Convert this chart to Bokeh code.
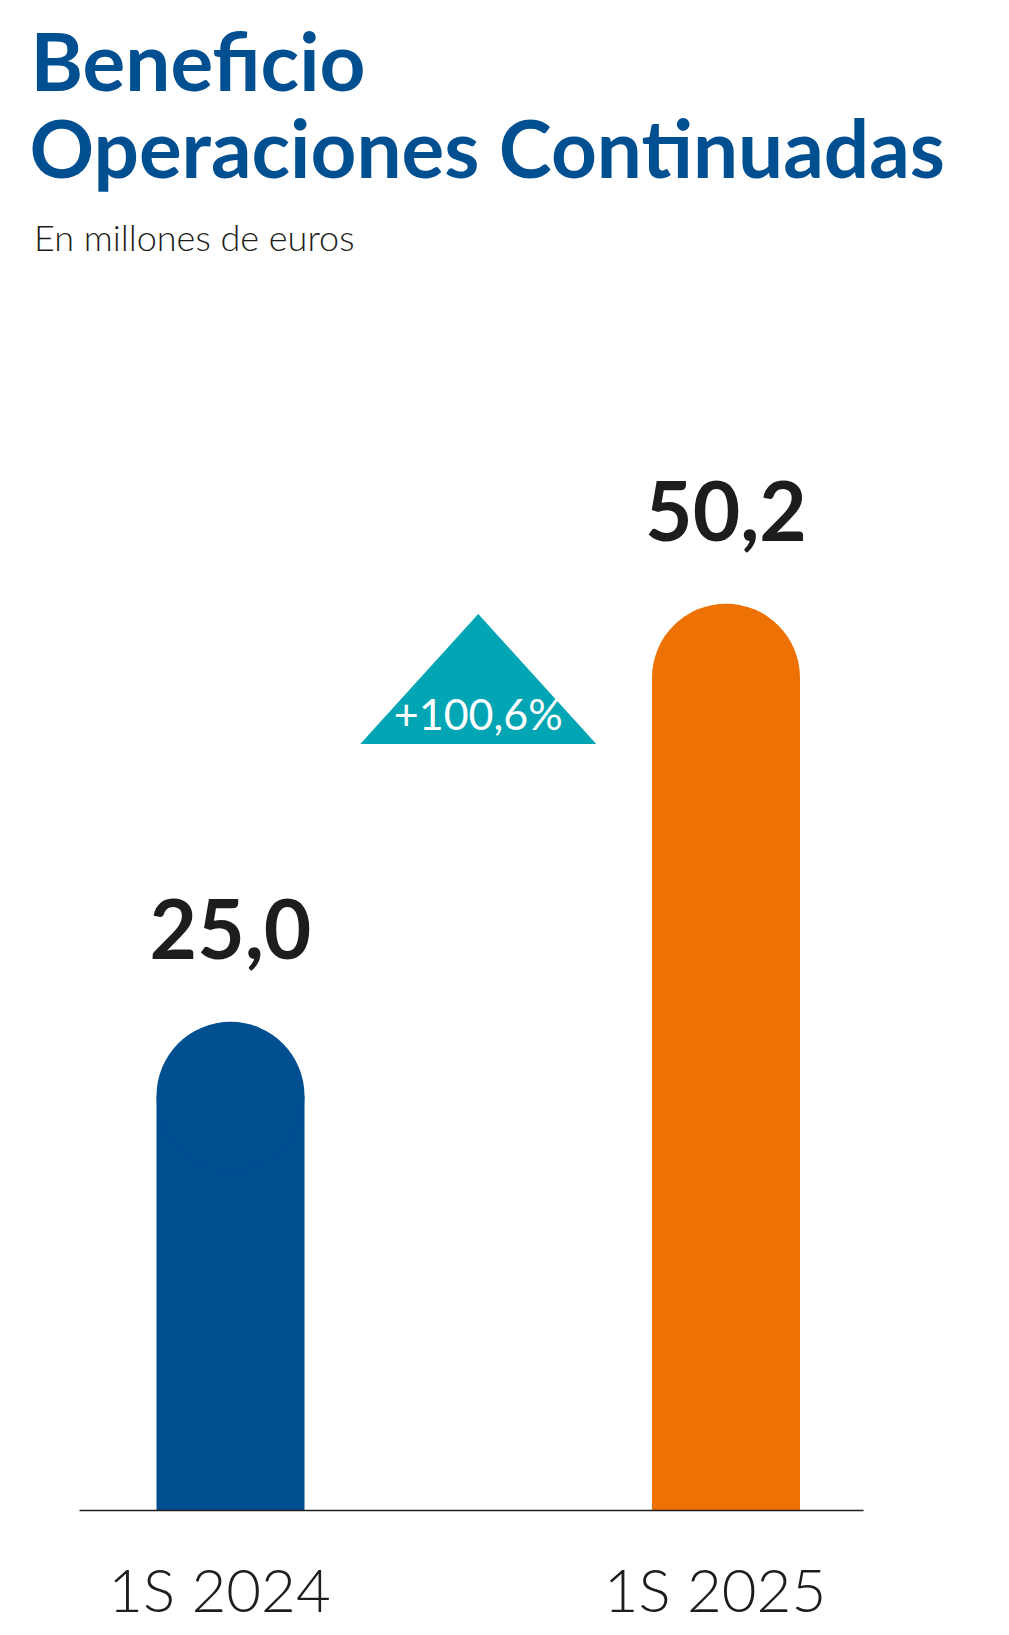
from bokeh.plotting import figure
from bokeh.models import Label, Range1d, FixedTicker
from bokeh.core.properties import value
from bokeh.embed import file_html
from bokeh.resources import INLINE

# ---- data ----
categories = ["1S 2024", "1S 2025"]
x_pos = [1, 2]
values = [25.0, 50.2]
value_labels = ["25,0", "50,2"]
bar_colors = ["#004F91", "#EE7203"]
change_label = "+100,6%"

title_line1 = "Beneficio"
title_line2 = "Operaciones Continuadas"
subtitle = "En millones de euros"

# ---- layout constants (pixels) ----
W, H = 1009, 1627
BOTTOM = 116
FRAME_H = H - BOTTOM          # frame spans full width, axis at y=1511
PX_PER_X = 495.5
PX_PER_Y = 16.6
BAR_PX = 148
FIRST_CENTER_PX = 230
AXIS_LEFT_PX, AXIS_RIGHT_PX = 79, 863
LABEL_SHIFT_PX = 11

TEXT = "#1d1d1b"
BLUE = "#004F91"
TEAL = "#02A5B4"
FONT = "Lato"
FONT_LIGHT = "Lato Light"

x_start = x_pos[0] - FIRST_CENTER_PX / PX_PER_X
x_end = x_start + W / PX_PER_X
y_end = FRAME_H / PX_PER_Y

p = figure(width=W, height=H, output_backend="svg", toolbar_location=None,
           x_range=Range1d(x_start, x_end), y_range=Range1d(0, y_end),
           y_axis_location=None,
           min_border_left=0, min_border_right=0,
           min_border_top=0, min_border_bottom=BOTTOM)
p.outline_line_color = None
p.grid.visible = False

# x axis (category labels)
tick_pos = [x - LABEL_SHIFT_PX / PX_PER_X for x in x_pos]
ax = p.xaxis[0]
ax.ticker = FixedTicker(ticks=tick_pos)
ax.major_label_overrides = {tp: c for tp, c in zip(tick_pos, categories)}
ax.bounds = (x_start + AXIS_LEFT_PX / PX_PER_X, x_start + AXIS_RIGHT_PX / PX_PER_X)
ax.major_tick_line_color = None
ax.minor_tick_line_color = None
ax.axis_line_color = TEXT
ax.axis_line_width = 1.5
ax.major_label_text_font = FONT_LIGHT
ax.major_label_text_font_size = "60px"
ax.major_label_text_color = TEXT
ax.major_label_standoff = 36

# bars with rounded caps
bar_w = BAR_PX / PX_PER_X
p.vbar(x=x_pos, top=values, bottom=0, width=bar_w, fill_color=bar_colors, line_color=None)
p.circle(x=x_pos, y=values, radius=BAR_PX / 2, radius_units="screen",
         fill_color=bar_colors, line_color=None)

# value labels
p.text(x=x_pos, y=values, text=value_labels, y_offset=-167,
       text_font=value(FONT), text_font_style="bold", text_font_size="82px",
       text_color=TEXT, text_align="center", text_baseline="alphabetic")

# change triangle
xc = sum(x_pos) / len(x_pos)
tri_half = 118 / PX_PER_X
tri_base = 767 / PX_PER_Y
tri_top = tri_base + 130 / PX_PER_Y
p.patch(x=[xc - tri_half, xc, xc + tri_half], y=[tri_base, tri_top, tri_base],
        fill_color=TEAL, line_color=None)
p.text(x=[xc], y=[tri_base], text=[change_label], y_offset=-31,
       text_font=value(FONT), text_font_size="43px", text_color="white",
       text_align="center", text_baseline="alphabetic")

# titles (screen units measured from the frame's bottom-left)
p.add_layout(Label(x=30, y=FRAME_H - 108, x_units="screen", y_units="screen",
                   text=title_line1, text_font=FONT, text_font_style="bold",
                   text_font_size="80px", text_color=BLUE, text_baseline="bottom"))
p.add_layout(Label(x=29, y=FRAME_H - 195, x_units="screen", y_units="screen",
                   text=title_line2, text_font=FONT, text_font_style="bold",
                   text_font_size="80px", text_color=BLUE, text_baseline="bottom"))
p.add_layout(Label(x=33.5, y=FRAME_H - 259.5, x_units="screen", y_units="screen",
                   text=subtitle, text_font=FONT_LIGHT, text_font_size="36px",
                   text_color=TEXT, text_baseline="bottom"))

open("out.html", "w").write(file_html(p, INLINE))
